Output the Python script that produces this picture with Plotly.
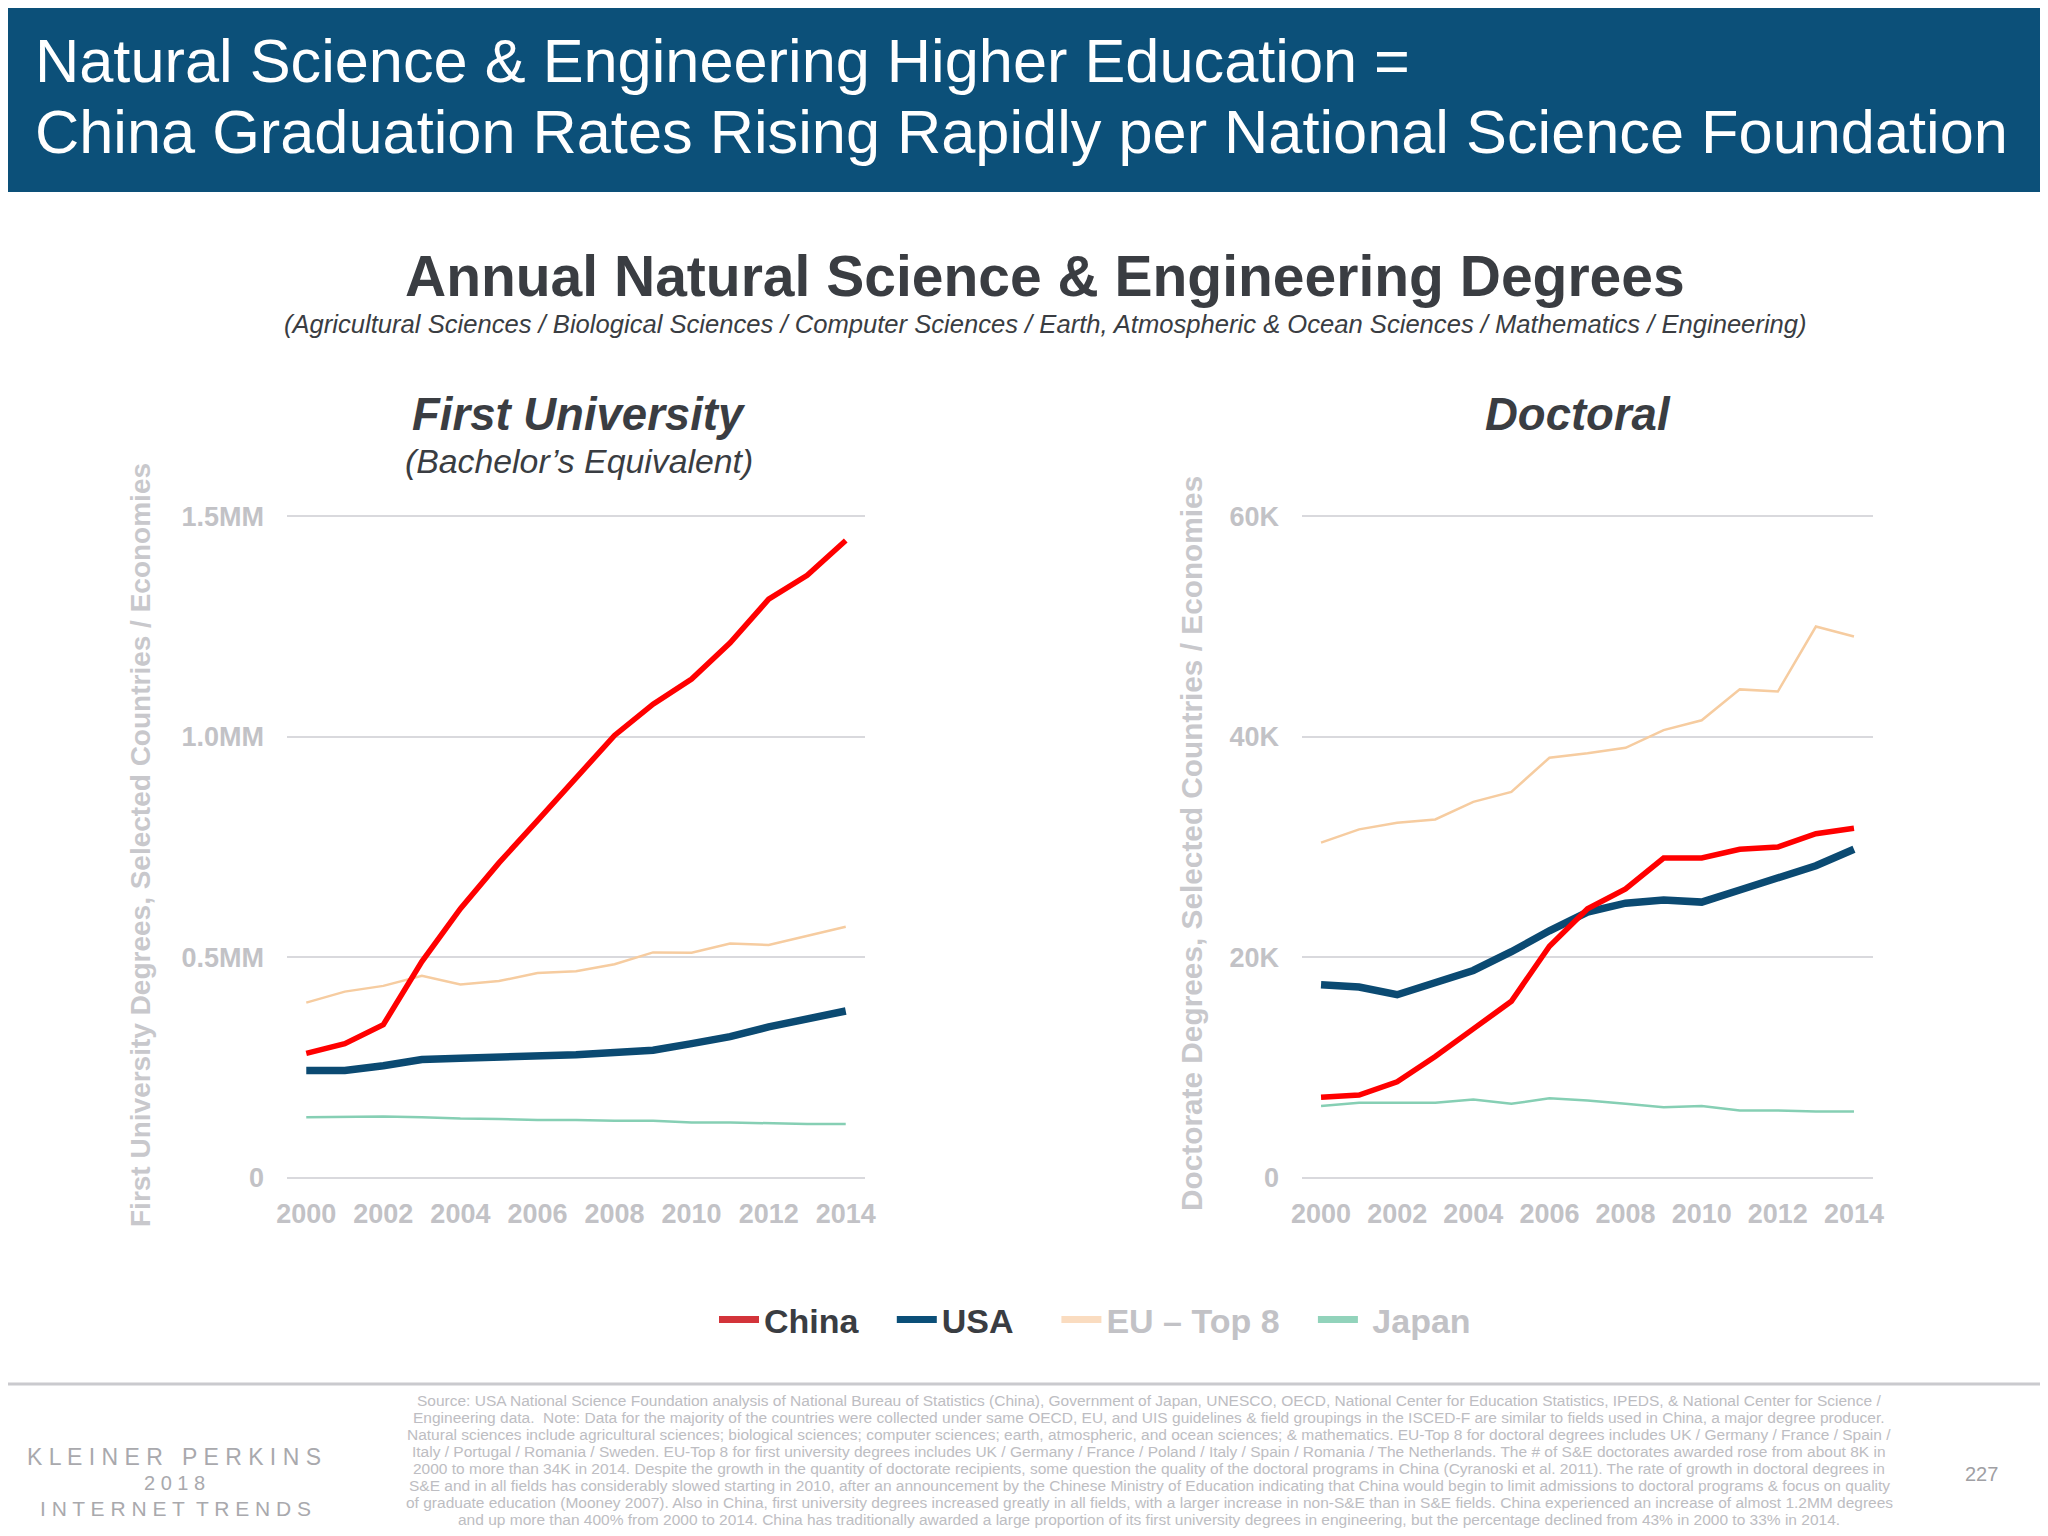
import plotly.graph_objects as go

# data
years = list(range(2000, 2015))

first_china = [282000, 304000, 347000, 490000, 610000, 714000, 810000, 906000,
               1003000, 1074000, 1131000, 1213000, 1312000, 1366000, 1445000]
first_usa = [243000, 243000, 254000, 268000, 271000, 273000, 276000, 279000,
             284000, 289000, 304000, 320000, 342000, 360000, 378000]
first_eu = [397000, 422000, 435000, 458000, 438000, 446000, 464000, 468000,
            484000, 511000, 510000, 531000, 528000, 549000, 569000]
first_japan = [137000, 138000, 139000, 137000, 134000, 133000, 131000, 131000,
               129000, 129000, 125000, 125000, 123000, 122000, 122000]

doc_china = [7300, 7500, 8700, 11000, 13500, 16000, 21000, 24400,
             26200, 29000, 29000, 29800, 30000, 31200, 31700]
doc_usa = [17500, 17300, 16600, 17700, 18800, 20500, 22400, 24100,
           24900, 25200, 25000, 26100, 27200, 28300, 29800]
doc_eu = [30400, 31600, 32200, 32500, 34100, 35000, 38100, 38500,
          39000, 40600, 41500, 44300, 44100, 50000, 49100]
doc_japan = [6500, 6800, 6800, 6800, 7100, 6700, 7200, 7000,
             6700, 6400, 6500, 6100, 6100, 6000, 6000]

series_names = ["China", "USA", "EU \u2013 Top 8", "Japan"]
first_ticks = [0, 500000, 1000000, 1500000]
first_tick_text = ["0", "0.5MM", "1.0MM", "1.5MM"]
doc_ticks = [0, 20000, 40000, 60000]
doc_tick_text = ["0", "20K", "40K", "60K"]
year_ticks = list(range(2000, 2015, 2))

footer_lines = [
    "Source: USA National Science Foundation analysis of National Bureau of Statistics (China), Government of Japan, UNESCO, OECD, National Center for Education Statistics, IPEDS, & National Center for Science /",
    "Engineering data.  Note: Data for the majority of the countries were collected under same OECD, EU, and UIS guidelines & field groupings in the ISCED-F are similar to fields used in China, a major degree producer.",
    "Natural sciences include agricultural sciences; biological sciences; computer sciences; earth, atmospheric, and ocean sciences; & mathematics. EU-Top 8 for doctoral degrees includes UK / Germany / France / Spain /",
    "Italy / Portugal / Romania / Sweden. EU-Top 8 for first university degrees includes UK / Germany / France / Poland / Italy / Spain / Romania / The Netherlands. The # of S&E doctorates awarded rose from about 8K in",
    "2000 to more than 34K in 2014. Despite the growth in the quantity of doctorate recipients, some question the quality of the doctoral programs in China (Cyranoski et al. 2011). The rate of growth in doctoral degrees in",
    "S&E and in all fields has considerably slowed starting in 2010, after an announcement by the Chinese Ministry of Education indicating that China would begin to limit admissions to doctoral programs & focus on quality",
    "of graduate education (Mooney 2007). Also in China, first university degrees increased greatly in all fields, with a larger increase in non-S&E than in S&E fields. China experienced an increase of almost 1.2MM degrees",
    "and up more than 400% from 2000 to 2014. China has traditionally awarded a large proportion of its first university degrees in engineering, but the percentage declined from 43% in 2000 to 33% in 2014.",
]

# page is 2048x1536 with the default 8px body margin round the figure
OFF = 8
W, H = 2048 - 2 * OFF, 1536 - 2 * OFF
FONT = "Liberation Sans, Arial, sans-serif"
DARK = "#3a3d42"
GREY = "#c2c2c6"


def px(x):
    return (x - OFF) / W


def py(y):
    return 1 - (y - OFF) / H


line_colors = ["#ff0000", "#0b4a72", "#f6cca0", "#86cfb4"]
line_widths = [5.5, 7.5, 2.5, 2.5]
legend_colors = ["#d3343a", "#0b4f78", "#fadcc0", "#92d3bb"]
legend_text_colors = [DARK, DARK, GREY, GREY]
legend_pad_before = ["", "", "", "&nbsp;"]
legend_pad_after = ["&nbsp;" * 3, "&nbsp;" * 4, "&nbsp;" * 3, ""]

fig = go.Figure()

first_series = [first_china, first_usa, first_eu, first_japan]
doc_series = [doc_china, doc_usa, doc_eu, doc_japan]

# draw thin lines first so the thick ones sit on top
for i in [2, 3, 1, 0]:
    fig.add_trace(go.Scatter(x=years, y=first_series[i], mode="lines", showlegend=False,
                             line=dict(color=line_colors[i], width=line_widths[i]),
                             xaxis="x", yaxis="y", cliponaxis=False))
    fig.add_trace(go.Scatter(x=years, y=doc_series[i], mode="lines", showlegend=False,
                             line=dict(color=line_colors[i], width=line_widths[i]),
                             xaxis="x2", yaxis="y2", cliponaxis=False))

# legend-only entries
for i, name in enumerate(series_names):
    label = (f"{legend_pad_before[i]}<span style='color:{legend_text_colors[i]}'><b>{name}</b></span>"
             f"{legend_pad_after[i]}")
    fig.add_trace(go.Scatter(x=[None], y=[None], mode="lines", name=label,
                             line=dict(color=legend_colors[i], width=7)))

axis_common = dict(showline=False, zeroline=False, ticks="",
                   gridcolor="#d9d9dd", gridwidth=2, automargin=False,
                   tickfont=dict(family=FONT, size=27, color=GREY, weight="bold"))

# a hair of padding so the gridlines at 0 and at the top are drawn
first_range = [-0.002 * 1500000, 1.002 * 1500000]
doc_range = [-0.002 * 60000, 1.002 * 60000]

fig.update_layout(
    width=W, height=H,
    margin=dict(l=0, r=0, t=0, b=0),
    paper_bgcolor="white", plot_bgcolor="white",
    font=dict(family=FONT),
    xaxis=dict(domain=[px(287), px(865)], range=[1999.5, 2014.5], tickvals=year_ticks,
               showgrid=False, ticklabelstandoff=16, anchor="y", **axis_common),
    yaxis=dict(domain=[py(1179), py(515)], range=first_range, tickvals=first_ticks,
               ticktext=first_tick_text, showgrid=True, ticklabelstandoff=22, anchor="x",
               **axis_common),
    xaxis2=dict(domain=[px(1302), px(1873)], range=[1999.5, 2014.5], tickvals=year_ticks,
                showgrid=False, ticklabelstandoff=16, anchor="y2", **axis_common),
    yaxis2=dict(domain=[py(1179), py(515)], range=doc_range, tickvals=doc_ticks,
                ticktext=doc_tick_text, showgrid=True, ticklabelstandoff=22, anchor="x2",
                **axis_common),
    legend=dict(orientation="h", x=px(1095), xanchor="center", y=py(1320), yanchor="middle",
                font=dict(family=FONT, size=34), itemwidth=40, bgcolor="rgba(0,0,0,0)"),
    showlegend=True,
)

# header band and footer rule
fig.add_shape(type="rect", xref="paper", yref="paper", x0=0, x1=1, y0=py(192), y1=1,
              fillcolor="#0c5079", line=dict(width=0), layer="below")
fig.add_shape(type="line", xref="paper", yref="paper", x0=0, x1=1, y0=py(1384), y1=py(1384),
              line=dict(color="#cacace", width=3))

notes = [
    dict(text="Natural Science & Engineering Higher Education =", x=px(33), y=py(61),
         xanchor="left", font=dict(size=61.3, color="white")),
    dict(text="China Graduation Rates Rising Rapidly per National Science Foundation", x=px(33), y=py(132),
         xanchor="left", font=dict(size=61.3, color="white")),
    dict(text="<b>Annual Natural Science & Engineering Degrees</b>", x=px(1045), y=py(276),
         font=dict(size=57, color=DARK)),
    dict(text="<i>(Agricultural Sciences / Biological Sciences / Computer Sciences / Earth, Atmospheric & Ocean Sciences / Mathematics / Engineering)</i>",
         x=px(1045), y=py(324), font=dict(size=25.6, color=DARK)),
    dict(text="<b><i>First University</i></b>", x=px(579), y=py(414), font=dict(size=45.5, color=DARK)),
    dict(text="<i>(Bachelor\u2019s Equivalent)</i>", x=px(579), y=py(461), font=dict(size=33.8, color=DARK)),
    dict(text="<b><i>Doctoral</i></b>", x=px(1578), y=py(414), font=dict(size=45.5, color=DARK)),
    dict(text="<b>First University Degrees, Selected Countries / Economies</b>", x=px(140), y=py(845),
         textangle=-90, font=dict(size=28, color="#c8c8cc")),
    dict(text="<b>Doctorate Degrees, Selected Countries / Economies</b>", x=px(1191), y=py(844),
         textangle=-90, font=dict(size=29.8, color="#c8c8cc")),
    dict(text="K L E I N E R &nbsp; P E R K I N S", x=px(174), y=py(1457),
         font=dict(size=23, color="#a9a9ad")),
    dict(text="2 0 1 8", x=px(174), y=py(1483), font=dict(size=20, color="#a9a9ad")),
    dict(text="I N T E R N E T &nbsp;T R E N D S", x=px(175), y=py(1508),
         font=dict(size=21, color="#a9a9ad")),
    dict(text="227", x=px(1981), y=py(1474), font=dict(size=20, color="#a0a0a4")),
]
for n in notes:
    font = dict(family=FONT)
    font.update(n.pop("font"))
    fig.add_annotation(xref="paper", yref="paper", showarrow=False,
                       xanchor=n.pop("xanchor", "center"), yanchor="middle", font=font, **n)

for k, line in enumerate(footer_lines):
    fig.add_annotation(xref="paper", yref="paper", showarrow=False, text=line,
                       x=px(1149), y=py(1400 + 17 * k), xanchor="center", yanchor="middle",
                       font=dict(family=FONT, size=15.5, color="#bdbdc2"))

fig.write_html("out.html")
